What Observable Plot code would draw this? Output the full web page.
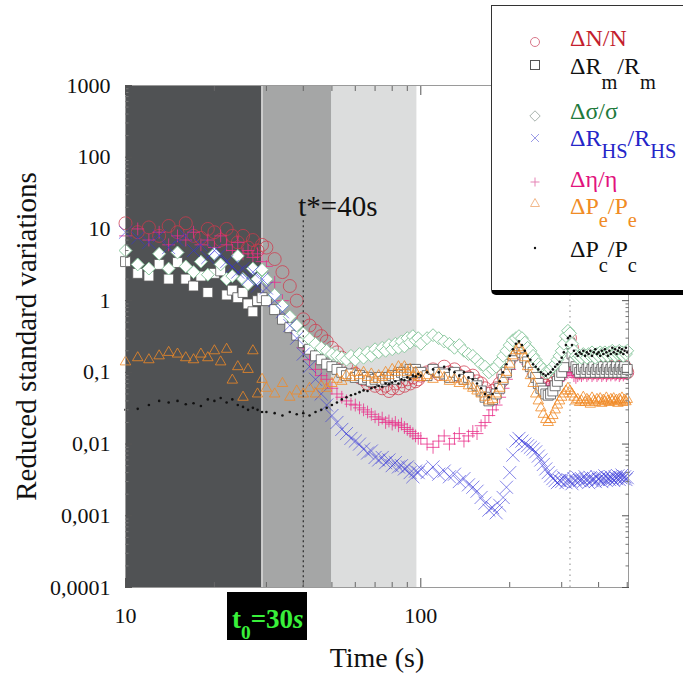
<!DOCTYPE html>
<html>
<head>
<meta charset="utf-8">
<script src="https://cdn.jsdelivr.net/npm/d3@7"></script>
<script src="https://cdn.jsdelivr.net/npm/@observablehq/plot@0.6"></script>
<style>
  html, body { margin: 0; padding: 0; background: #fff; overflow: hidden; }
  #wrap { position: relative; width: 683px; height: 676px; font-family: "Liberation Serif", "Times New Roman", serif; }
  #legend { position: absolute; left: 491px; top: 5px; width: 230px; height: 284px; background: #fff;
            border-left: 1.5px solid #333; border-top: 1.5px solid #333; border-bottom: 5px solid #000;
            border-bottom-left-radius: 5px; box-sizing: content-box; }
  .lrow { position: absolute; left: 570px; font-size: 24px; line-height: 20px; white-space: nowrap; }
  .lsym { position: absolute; left: 528px; width: 14px; height: 14px; overflow: visible; }
  .sub { position: relative; font-size: 0.85em; }
  #t0 { position: absolute; left: 227px; top: 592px; width: 80px; height: 48px; background: #000; color: #39f03a;
        font-weight: bold; font-size: 27px; line-height: 27px; box-sizing: border-box; padding: 14px 0 0 5px; white-space: nowrap; }
  #t0 .s0 { position: relative; top: 0.55em; font-size: 0.72em; }
</style>
</head>
<body>
<div id="wrap"></div>
<script>
// ---- time grid (s) ----
const times1 = [10,11,12,13,14,15,16,17,18,19,20,21,22,23,24,25,26,27,28,29];
const times2 = [30,32,34,36,38,40,42,44,46,48,50,52,54,56,58,60,62,64,66,68,70,72,74,76,78,80,82,84,86,88,90,92,94,96,98];
const times3 = [100,105,110,115,120,125,130,135,140,145,
  150,155,160,165,170,175,180,185,190,195,
  200,205,210,215,220,225,230,235,240,245,
  250,255,260,265,270,275,280,285,290,295,
  300,305,310,315,320,325,330,335,340,345,
  350,355,360,365,370,375,380,385,390,395,
  400,405,410,415,420,425,430,435,440,445,
  450,455,460,465,470,475,480,485,490,495,500];

// ---- ΔN/N ----
const N1 = [12,9,10.5,8,11,9,12,8,7.5,10,9,7,10,8,6.5,8,5.5,7,5,6];
const N2 = [5.5,3.8,2.5,1.6,1.0,0.55,0.45,0.38,0.32,0.27,0.22,0.19,0.16,0.13,0.11,0.095,0.085,0.08,0.07,0.075,0.065,0.07,0.06,0.065,0.055,0.06,0.07,0.06,0.075,0.065,0.08,0.07,0.085,0.075,0.08];
const N3 = [0.09,0.1,0.11,0.095,0.12,0.1,0.11,0.09,0.1,0.085,
  0.09,0.075,0.07,0.06,0.05,0.055,0.06,0.07,0.09,0.12,
  0.15,0.2,0.25,0.28,0.24,0.2,0.18,0.15,0.13,0.11,
  0.09,0.08,0.07,0.065,0.06,0.062,0.07,0.08,0.09,0.1,
  0.12,0.15,0.2,0.28,0.3,0.22,0.15,0.12,0.1,0.11,
  0.1,0.12,0.11,0.1,0.12,0.11,0.1,0.12,0.11,0.1,
  0.12,0.11,0.1,0.12,0.11,0.1,0.12,0.11,0.1,0.12,
  0.11,0.1,0.12,0.11,0.1,0.12,0.11,0.1,0.12,0.11,0.1];

// ---- ΔRm/Rm ----
const Rm1 = [3.5,2.4,2.2,3.2,2.0,3.4,2.0,1.6,2.2,1.3,2.4,2.6,1.2,1.4,1.1,1.3,0.9,0.7,1.0,1.1];
const Rm2 = [1.0,0.75,0.55,0.42,0.33,0.26,0.21,0.17,0.15,0.13,0.12,0.11,0.1,0.09,0.095,0.085,0.09,0.08,0.085,0.075,0.08,0.085,0.075,0.08,0.085,0.09,0.08,0.09,0.1,0.09,0.1,0.11,0.1,0.11,0.1];
const Rm3 = [0.1,0.09,0.11,0.1,0.095,0.085,0.1,0.09,0.08,0.085,
  0.07,0.065,0.055,0.045,0.04,0.042,0.05,0.06,0.08,0.1,
  0.13,0.17,0.2,0.22,0.19,0.16,0.14,0.12,0.1,0.085,
  0.07,0.06,0.055,0.05,0.048,0.05,0.055,0.065,0.075,0.09,
  0.1,0.12,0.16,0.22,0.25,0.18,0.14,0.12,0.11,0.1,
  0.11,0.12,0.1,0.11,0.12,0.1,0.11,0.12,0.1,0.11,
  0.12,0.1,0.11,0.12,0.1,0.11,0.12,0.1,0.11,0.12,
  0.1,0.11,0.12,0.1,0.11,0.12,0.1,0.11,0.12,0.1,0.11];

// ---- Δσ/σ ----
const S1 = [5,3.2,2.8,4.5,2.8,4.7,3,2.5,3.5,2.3,4.5,3.2,2,2.2,4.2,2,1.7,2.8,2,2.7];
const S2 = [2.0,1.2,0.85,0.6,0.45,0.35,0.29,0.25,0.22,0.2,0.18,0.17,0.16,0.15,0.17,0.15,0.18,0.16,0.19,0.17,0.21,0.19,0.22,0.2,0.24,0.21,0.25,0.22,0.27,0.23,0.3,0.26,0.32,0.28,0.3];
const S3 = [0.25,0.3,0.33,0.3,0.27,0.25,0.22,0.24,0.2,0.18,
  0.17,0.15,0.13,0.12,0.1,0.11,0.12,0.14,0.17,0.2,
  0.24,0.28,0.3,0.32,0.3,0.26,0.22,0.2,0.17,0.15,
  0.13,0.12,0.11,0.1,0.1,0.11,0.12,0.13,0.15,0.17,
  0.2,0.25,0.32,0.38,0.35,0.25,0.2,0.17,0.16,0.17,
  0.16,0.18,0.17,0.16,0.18,0.17,0.19,0.17,0.16,0.18,
  0.17,0.19,0.18,0.17,0.19,0.18,0.17,0.19,0.18,0.2,
  0.18,0.17,0.19,0.18,0.2,0.18,0.19,0.17,0.19,0.18,0.2];

// ---- ΔRHS/RHS ----
const H1 = [9,7.5,6.5,8,5.5,7,8,5,6,4,5,4.5,3.5,3,2.5,2.8,2,2.5,1.6,2];
const H2 = [1.5,1.0,0.7,0.45,0.3,0.18,0.12,0.08,0.05,0.035,0.025,0.02,0.016,0.014,0.012,0.011,0.01,0.0085,0.0075,0.008,0.0065,0.006,0.0065,0.0055,0.006,0.005,0.0055,0.0048,0.005,0.0045,0.0048,0.004,0.0035,0.0042,0.004];
const H3 = [0.0045,0.004,0.0048,0.0038,0.0042,0.0035,0.0038,0.003,0.0033,0.0027,
  0.0025,0.0022,0.0018,0.0015,0.0012,0.0013,0.0011,0.0014,0.0018,0.0025,
  0.004,0.007,0.011,0.012,0.011,0.01,0.0095,0.009,0.0085,0.0078,
  0.0068,0.006,0.0052,0.0045,0.004,0.0036,0.0033,0.0031,0.0029,0.0031,
  0.003,0.0034,0.0029,0.0032,0.0031,0.0028,0.0033,0.003,0.0034,0.0031,
  0.0033,0.003,0.0035,0.0032,0.0029,0.0034,0.0031,0.0033,0.003,0.0035,
  0.0032,0.0034,0.003,0.0033,0.0036,0.0031,0.0034,0.0032,0.0035,0.0033,
  0.0031,0.0035,0.0033,0.0036,0.0032,0.0034,0.0037,0.0033,0.0035,0.0032,0.0034];

// ---- Δη/η ----
const E1 = [8,10,7,9,6,8,7,9,6,7,5.5,8,6,5,6.5,4.5,5,4,4.5,3.5];
const E2 = [3,1.8,1.0,0.6,0.35,0.22,0.15,0.11,0.09,0.08,0.06,0.05,0.045,0.04,0.036,0.035,0.032,0.03,0.028,0.026,0.024,0.022,0.023,0.02,0.021,0.019,0.02,0.018,0.019,0.017,0.016,0.015,0.014,0.013,0.012];
const E3 = [0.012,0.01,0.009,0.011,0.013,0.01,0.012,0.014,0.011,0.013,
  0.015,0.014,0.018,0.02,0.025,0.03,0.035,0.045,0.06,0.08,
  0.11,0.15,0.2,0.22,0.2,0.16,0.13,0.11,0.095,0.085,
  0.075,0.07,0.065,0.06,0.058,0.06,0.065,0.07,0.075,0.08,
  0.085,0.09,0.095,0.1,0.11,0.1,0.09,0.085,0.09,0.095,
  0.09,0.095,0.1,0.09,0.095,0.1,0.09,0.095,0.1,0.09,
  0.095,0.1,0.09,0.095,0.1,0.09,0.095,0.1,0.092,0.097,
  0.1,0.092,0.095,0.1,0.09,0.095,0.1,0.092,0.097,0.1,0.095];

// ---- ΔPe/Pe ----
const Pe1 = [0.14,0.16,0.15,0.17,0.19,0.18,0.16,0.15,0.18,0.16,0.2,0.14,0.21,0.078,0.12,0.045,0.11,0.2,0.05,0.08];
const Pe2 = [0.06,0.05,0.07,0.045,0.055,0.05,0.06,0.05,0.065,0.06,0.07,0.08,0.075,0.09,0.085,0.1,0.09,0.1,0.085,0.095,0.08,0.09,0.085,0.1,0.09,0.11,0.1,0.12,0.11,0.12,0.1,0.11,0.09,0.1,0.085];
const Pe3 = [0.085,0.09,0.08,0.095,0.085,0.075,0.08,0.07,0.075,0.065,
  0.06,0.055,0.05,0.045,0.04,0.042,0.05,0.06,0.08,0.1,
  0.13,0.17,0.2,0.22,0.2,0.16,0.12,0.09,0.07,0.05,
  0.04,0.032,0.026,0.022,0.02,0.022,0.025,0.03,0.035,0.04,
  0.045,0.05,0.055,0.06,0.055,0.05,0.045,0.04,0.042,0.038,
  0.04,0.045,0.038,0.042,0.04,0.036,0.044,0.04,0.038,0.042,
  0.04,0.043,0.037,0.041,0.039,0.044,0.04,0.038,0.042,0.04,
  0.043,0.039,0.041,0.037,0.042,0.04,0.044,0.038,0.041,0.039,0.042];

// ---- ΔPc/Pc ----
const Pc1 = [0.03,0.031,0.035,0.04,0.038,0.04,0.036,0.037,0.034,0.042,0.04,0.044,0.038,0.042,0.035,0.033,0.03,0.032,0.03,0.028];
const Pc2 = [0.028,0.027,0.025,0.028,0.026,0.027,0.025,0.028,0.03,0.032,0.035,0.038,0.042,0.045,0.048,0.05,0.053,0.056,0.055,0.06,0.062,0.065,0.063,0.07,0.068,0.072,0.075,0.07,0.08,0.078,0.085,0.08,0.09,0.088,0.095];
const Pc3 = [0.09,0.1,0.11,0.1,0.12,0.11,0.1,0.09,0.1,0.085,
  0.08,0.07,0.06,0.05,0.045,0.05,0.06,0.075,0.1,0.13,
  0.17,0.21,0.25,0.27,0.24,0.2,0.17,0.15,0.13,0.12,
  0.11,0.1,0.095,0.09,0.095,0.1,0.11,0.12,0.13,0.14,
  0.16,0.19,0.24,0.3,0.32,0.24,0.2,0.18,0.17,0.19,
  0.18,0.2,0.17,0.19,0.18,0.2,0.17,0.19,0.21,0.18,
  0.19,0.17,0.2,0.18,0.21,0.19,0.17,0.2,0.18,0.22,
  0.19,0.21,0.18,0.2,0.22,0.19,0.21,0.18,0.2,0.22,0.19];

// ---- phases, annotations, ticks ----
const phaseStart = [10, 29, 50];
const phaseEnd = [29, 50, 97];
const phaseFill = ["#505254", "#a5a6a6", "#dcdddd"];
const tStar = 40;
const tStarLabel = "t*=40s";
const tEvent = 320;
const yTicks = [0.0001, 0.001, 0.01, 0.1, 1, 10, 100, 1000];
const yTickLabels = ["0,0001", "0,001", "0,01", "0,1", "1", "10", "100", "1000"];
const xTicks = [10, 100];
const xTickLabels = ["10", "100"];
const xMinorTicks = [20, 30, 40, 50, 60, 70, 80, 90, 200, 300, 400, 500];
const yMinorTicks = yTicks.slice(0, -1).flatMap(v => [2,3,4,5,6,7,8,9].map(m => m * v));

const times = times1.concat(times2, times3);
const rows = (a, b, c) => { const v = a.concat(b, c); if (v.length !== times.length) throw new Error("length mismatch " + v.length); return times.map((t, i) => ({t, v: v[i]})); };
const dN = rows(N1, N2, N3), dRm = rows(Rm1, Rm2, Rm3), dS = rows(S1, S2, S3), dH = rows(H1, H2, H3),
      dE = rows(E1, E2, E3), dPe = rows(Pe1, Pe2, Pe3), dPc = rows(Pc1, Pc2, Pc3);

const phases = phaseStart.map((s, i) => ({s, e: phaseEnd[i], fill: phaseFill[i]}));

const chart = Plot.plot({
  width: 683, height: 676,
  marginLeft: 125, marginRight: 55, marginTop: 85, marginBottom: 89,
  style: {fontFamily: "Liberation Serif, Times New Roman, serif", fontSize: "22px", background: "#fff", color: "#111"},
  x: {type: "log", domain: [10, 505]},
  y: {type: "log", domain: [1e-4, 1e3]},
  marks: [
    ...phases.map(p => Plot.rect([p], {x1: "s", x2: "e", fill: p.fill})),
    Plot.ruleX([phaseEnd[0]], {stroke: "#d8d8d8", strokeWidth: 1.5}),
    Plot.ruleX([tEvent], {stroke: "#8a8a8a", strokeDasharray: "1.5,4", strokeWidth: 1}),
    Plot.dot(dN, {x: "t", y: "v", symbol: "circle", r: 6.5, stroke: "#cf3a4c", strokeOpacity: 0.75, fill: "none", strokeWidth: 1}),
    Plot.dot(dE, {x: "t", y: "v", symbol: "plus", r: 4.2, stroke: "#e8308a", strokeOpacity: 0.8, strokeWidth: 1}),
    Plot.dot(dRm, {x: "t", y: "v", symbol: "square", r: 5.6, fill: "#fff", stroke: "#555", strokeWidth: 0.8}),
    Plot.dot(dS, {x: "t", y: "v", symbol: "diamond2", r: 5.8, fill: "#fff", stroke: "#8cc9a0", strokeWidth: 1}),
    Plot.dot(dH, {x: "t", y: "v", symbol: "times", r: 6, stroke: "#3636d8", strokeOpacity: 0.6, strokeWidth: 1}),
    Plot.dot(dPe, {x: "t", y: "v", symbol: "triangle2", r: 5, stroke: "#f08a26", strokeOpacity: 0.8, fill: "none", strokeWidth: 1}),
    Plot.dot(dPc, {x: "t", y: "v", r: 1.3, fill: "#111", stroke: "none"}),
    Plot.ruleX([tStar], {y1: 13, y2: 1e-4, stroke: "#333", strokeDasharray: "2,3", strokeWidth: 1.3}),
    Plot.frame({stroke: "#9a9a9a"}),
    // inward ticks on all four sides
    Plot.axisY(yTicks, {anchor: "left", tickSize: -7, fill: "none", stroke: "#555", label: null}),
    Plot.axisY(yMinorTicks, {anchor: "left", tickSize: -3.5, fill: "none", stroke: "#777", label: null}),
    Plot.axisY(yTicks, {anchor: "right", tickSize: -7, fill: "none", stroke: "#555", label: null}),
    Plot.axisY(yMinorTicks, {anchor: "right", tickSize: -3.5, fill: "none", stroke: "#777", label: null}),
    Plot.axisX(xTicks, {anchor: "bottom", tickSize: -9, fill: "none", stroke: "#555", label: null}),
    Plot.axisX(xMinorTicks, {anchor: "bottom", tickSize: -5, fill: "none", stroke: "#666", label: null}),
    Plot.axisX(xTicks, {anchor: "top", tickSize: -9, fill: "none", stroke: "#555", label: null}),
    Plot.axisX(xMinorTicks, {anchor: "top", tickSize: -5, fill: "none", stroke: "#666", label: null}),
    // tick labels
    Plot.axisY(yTicks, {anchor: "left", tickSize: 0, tickPadding: 15, fontSize: 22, fill: "#111",
      tickFormat: d => yTickLabels[yTicks.indexOf(d)], label: null}),
    Plot.axisX(xTicks, {anchor: "bottom", tickSize: 0, tickPadding: 20, fontSize: 22, fill: "#111",
      tickFormat: d => xTickLabels[xTicks.indexOf(d)], label: null}),
    // titles and annotation
    Plot.text(["Reduced standard variations"], {frameAnchor: "left", dx: -99, rotate: -90, textAnchor: "middle", lineAnchor: "middle", fontSize: 29, fill: "#111"}),
    Plot.text(["Time (s)"], {frameAnchor: "bottom", dy: 71, textAnchor: "middle", lineAnchor: "middle", fontSize: 28, fill: "#111"}),
    Plot.text([{t: tStar, label: tStarLabel}], {x: "t", text: "label", frameAnchor: "top", dy: 110, dx: -5, textAnchor: "start", fontSize: 29, fill: "#111"})
  ]
});

const wrap = document.getElementById("wrap");
wrap.appendChild(chart);
chart.style.position = "absolute"; chart.style.left = "0"; chart.style.top = "0";

// ---- legend (HTML overlay) ----
const symSvg = {
  circle: c => `<circle cx="7" cy="7" r="4.5" fill="none" stroke="${c}" stroke-width="1"/>`,
  square: c => `<rect x="2.5" y="2.5" width="9" height="9" fill="#fff" stroke="${c}" stroke-width="1"/>`,
  diamond: c => `<path d="M7 1.8L12.2 7L7 12.2L1.8 7Z" fill="#fff" stroke="${c}" stroke-width="1"/>`,
  times: c => `<path d="M3 3L11 11M11 3L3 11" stroke="${c}" stroke-width="1"/>`,
  plus: c => `<path d="M7 2.5V11.5M2.5 7H11.5" stroke="${c}" stroke-width="1"/>`,
  triangle: c => `<path d="M7 2.5L11.5 10.5H2.5Z" fill="none" stroke="${c}" stroke-width="1"/>`,
  dot: c => `<circle cx="7" cy="7" r="1.2" fill="${c}"/>`
};
const sub = (s, off) => `<span class='sub' style='top:${off}em'>${s}</span>`;
const legendItems = [
  {sym: "circle", symColor: "#d9778a", html: "ΔN/N", color: "#c41e2e", base: 46, symY: 42},
  {sym: "square", symColor: "#555", html: "ΔR" + sub("m", 0.72) + "/R" + sub("m", 0.72), color: "#111", base: 74, symY: 65},
  {sym: "diamond", symColor: "#a8b3ad", html: "Δσ/σ", color: "#1f7a3d", base: 119, symY: 116},
  {sym: "times", symColor: "#9b9be6", html: "ΔR" + sub("HS", 0.6) + "/R" + sub("HS", 0.6), color: "#2525c8", base: 146, symY: 138},
  {sym: "plus", symColor: "#e583b5", html: "Δη/η", color: "#e2137d", base: 187, symY: 182},
  {sym: "triangle", symColor: "#f2b88a", html: "ΔP" + sub("e", 0.65) + "/P" + sub("e", 0.65), color: "#f08c26", base: 214, symY: 203},
  {sym: "dot", symColor: "#111", html: "ΔP" + sub("c", 0.72) + "/P" + sub("c", 0.72), color: "#111", base: 257, symY: 248}
];
const box = document.createElement("div"); box.id = "legend"; wrap.appendChild(box);
for (const it of legendItems) {
  const s = document.createElementNS("http://www.w3.org/2000/svg", "svg");
  s.setAttribute("class", "lsym"); s.setAttribute("width", 14); s.setAttribute("height", 14);
  s.innerHTML = symSvg[it.sym](it.symColor);
  s.style.top = (it.symY - 7) + "px"; wrap.appendChild(s);
  const r = document.createElement("div"); r.className = "lrow"; r.innerHTML = it.html;
  r.style.color = it.color; r.style.top = (it.base - 17.8) + "px"; wrap.appendChild(r);
}
const t0 = document.createElement("div"); t0.id = "t0";
t0.innerHTML = "t<span class='s0'>0</span>=30<i>s</i>";
wrap.appendChild(t0);
</script>
</body>
</html>
